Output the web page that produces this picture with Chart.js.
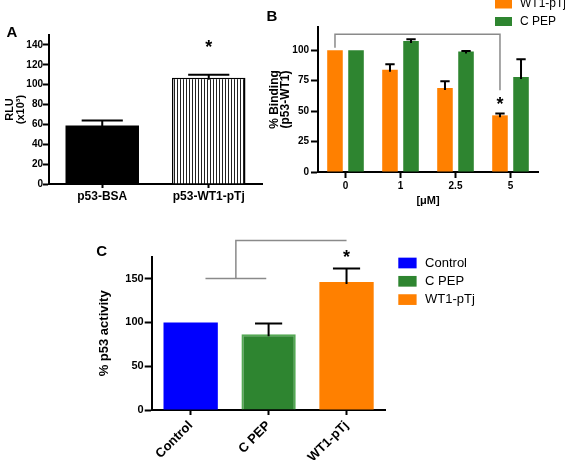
<!DOCTYPE html>
<html>
<head>
<meta charset="utf-8">
<script src="https://cdn.jsdelivr.net/npm/chart.js@4.4.0/dist/chart.umd.min.js"></script>
<style>
  html, body { margin: 0; padding: 0; background: #fff; }
  body { width: 565px; height: 460px; position: relative; overflow: hidden; }
  canvas { position: absolute; }
  #chartA { left: 0; top: 0; }
  #chartB { left: 264px; top: 0; }
  #chartC { left: 60px; top: 225px; }
</style>
</head>
<body>
<canvas id="chartA" width="268" height="215"></canvas>
<canvas id="chartB" width="301" height="215"></canvas>
<canvas id="chartC" width="505" height="235"></canvas>
<script>
// Panel A - RLU
const labelsA = ['p53-BSA', 'p53-WT1-pTj'];
const rluA = [59, 107];
const semA = [5, 3];
const ticksA = [0, 20, 40, 60, 80, 100, 120, 140];
const sigA = [false, true];

// Panel B - % binding vs dose
const doseB = ['0', '1', '2.5', '5'];
const wt1B = [100, 84, 69, 46.5];
const wt1SemB = [0, 4.5, 5.5, 1.5];
const cpepB = [100, 107.5, 98.8, 78];
const cpepSemB = [0, 1.5, 0.5, 14.5];
const ticksB = [0, 25, 50, 75, 100];
const sigB = [false, false, false, true];

// Panel C - % p53 activity
const groupsC = ['Control', 'C PEP', 'WT1-pTj'];
const activityC = [100, 86.5, 146];
const semC = [0, 12.2, 15.4];
const ticksC = [0, 50, 100, 150];
const sigC = [false, false, true];

// annotation levels (axis units)
const bracketB = { top: 113, left: 102, right: 67 };
const bracketC = { low: 150, high: 193.5 };

const ORANGE = '#ff8000';
const GREEN = '#2e8530';
const BLUE = '#0000ff';

Chart.defaults.font.family = "'Liberation Sans', Arial, sans-serif";
Chart.defaults.color = '#000';

function stripes() {
  const c = document.createElement('canvas');
  c.width = 3; c.height = 8;
  const g = c.getContext('2d');
  g.fillStyle = '#fff'; g.fillRect(0, 0, 3, 8);
  g.fillStyle = '#222'; g.fillRect(0, 0, 1, 8);
  return g.createPattern(c, 'repeat');
}

function yScale(tickList, max, width, fontSize, tickLen, pad, title) {
  return {
    min: 0, max: max,
    afterBuildTicks: s => { s.ticks = tickList.map(v => ({ value: v })); },
    afterFit: s => { s.width = width; },
    border: { color: '#000', width: 2 },
    grid: { drawOnChartArea: false, tickLength: tickLen, tickWidth: 2, tickColor: '#000' },
    ticks: { font: { size: fontSize, weight: 'bold' }, padding: pad, color: '#000' },
    title: title
  };
}

function xScale(height, fontSize, tickLen, pad, extraTicks, title) {
  return {
    afterFit: s => { s.height = height; },
    border: { color: '#000', width: 2 },
    grid: { offset: false, drawOnChartArea: false, tickLength: tickLen, tickWidth: 2, tickColor: '#000' },
    ticks: Object.assign({ font: { size: fontSize, weight: 'bold' }, padding: pad, color: '#000', autoSkip: false, maxRotation: 0 }, extraTicks || {}),
    title: title || { display: false }
  };
}

function drawStar(ctx, x, y) {
  ctx.font = "bold 18px 'Liberation Sans', Arial, sans-serif";
  ctx.fillStyle = '#000';
  ctx.textAlign = 'center';
  ctx.textBaseline = 'alphabetic';
  const m = ctx.measureText('*');
  ctx.fillText('*', x, y + (m.actualBoundingBoxAscent - m.actualBoundingBoxDescent) / 2);
}

// error bars, stars, panel letter, legend, bracket
const extras = {
  id: 'extras',
  afterDatasetsDraw(chart, args, opts) {
    const ctx = chart.ctx;
    const y = chart.scales.y;
    ctx.save();
    chart.data.datasets.forEach((ds, i) => {
      if (!ds.sem) return;
      chart.getDatasetMeta(i).data.forEach((bar, j) => {
        const s = ds.sem[j];
        if (!s) return;
        const top = y.getPixelForValue(ds.data[j] + s);
        const half = bar.width * opts.cap;
        ctx.strokeStyle = '#000';
        ctx.lineWidth = 2;
        ctx.beginPath();
        ctx.moveTo(bar.x, bar.y + 2); ctx.lineTo(bar.x, top);
        ctx.moveTo(bar.x - half, top); ctx.lineTo(bar.x + half, top);
        ctx.stroke();
      });
    });
    if (opts.stars) {
      const bars = chart.getDatasetMeta(opts.stars.dataset).data;
      opts.stars.sig.forEach((on, j) => {
        if (on) drawStar(ctx, bars[j].x, y.getPixelForValue(opts.stars.value));
      });
    }
    if (opts.bracket) opts.bracket(chart, ctx);
    if (opts.letter) {
      ctx.font = "bold 15px 'Liberation Sans', Arial, sans-serif";
      ctx.fillStyle = '#000';
      ctx.textAlign = 'center';
      ctx.textBaseline = 'middle';
      ctx.fillText(opts.letter.text, opts.letter.x, opts.letter.y);
    }
    if (opts.legend) {
      const L = opts.legend;
      ctx.font = L.size + "px 'Liberation Sans', Arial, sans-serif";
      ctx.textAlign = 'left';
      ctx.textBaseline = 'middle';
      L.items.forEach((it, k) => {
        const cy = L.y + k * L.step;
        ctx.fillStyle = it.color;
        ctx.fillRect(L.x, cy - L.h / 2, L.w, L.h);
        ctx.fillStyle = '#000';
        ctx.fillText(it.label, L.x + L.w + L.gap, cy);
      });
    }
    ctx.restore();
  }
};

// ---------- Panel A ----------
new Chart(document.getElementById('chartA'), {
  type: 'bar',
  data: {
    labels: labelsA,
    datasets: [{
      data: rluA,
      sem: semA,
      backgroundColor: ['#000', stripes()],
      borderColor: '#000',
      borderWidth: [0, 1.5],
      barPercentage: 0.69,
      categoryPercentage: 1
    }]
  },
  options: {
    responsive: false,
    animation: false,
    layout: { padding: { left: 0, right: 6, top: 35, bottom: 0 } },
    plugins: {
      legend: { display: false },
      tooltip: { enabled: false },
      extras: {
        cap: 0.28,
        stars: { dataset: 0, sig: sigA, value: 141 },
        letter: { text: 'A', x: 12, y: 33 }
      }
    },
    scales: {
      x: xScale(31, 12, 4, 1),
      y: yScale(ticksA, 150, 49, 10, 6, 0, {
        display: true, text: ['RLU', '(x10³)'],
        font: { size: 11, weight: 'bold', lineHeight: 0.95 },
        padding: { top: 5, bottom: 0 }
      })
    }
  },
  plugins: [extras]
});

// ---------- Panel B ----------
new Chart(document.getElementById('chartB'), {
  type: 'bar',
  data: {
    labels: doseB,
    datasets: [
      { label: 'WT1-pTj', data: wt1B, sem: wt1SemB, backgroundColor: ORANGE, barPercentage: 0.74, categoryPercentage: 0.765 },
      { label: 'C PEP', data: cpepB, sem: cpepSemB, backgroundColor: GREEN, barPercentage: 0.74, categoryPercentage: 0.765 }
    ]
  },
  options: {
    responsive: false,
    animation: false,
    layout: { padding: { left: 0, right: 27, top: 27, bottom: 0 } },
    plugins: {
      legend: { display: false },
      tooltip: { enabled: false },
      extras: {
        cap: 0.3,
        stars: { dataset: 0, sig: sigB, value: 59 },
        letter: { text: 'B', x: 8, y: 17 },
        legend: {
          x: 231, y: 4, step: 17.5, w: 17, h: 9, gap: 8, size: 12,
          items: [{ label: 'WT1-pTj', color: ORANGE }, { label: 'C PEP', color: GREEN }]
        },
        bracket(chart, ctx) {
          const y = chart.scales.y;
          const bars = chart.getDatasetMeta(0).data;
          const x0 = bars[0].x, x1 = bars[3].x;
          const yt = y.getPixelForValue(bracketB.top);
          ctx.strokeStyle = '#8a8a8a';
          ctx.lineWidth = 1.5;
          ctx.beginPath();
          ctx.moveTo(x0, y.getPixelForValue(bracketB.left));
          ctx.lineTo(x0, yt);
          ctx.lineTo(x1, yt);
          ctx.lineTo(x1, y.getPixelForValue(bracketB.right));
          ctx.stroke();
        }
      }
    },
    scales: {
      x: xScale(43, 10, 6, 2, null, {
        display: true, text: '[\u03bcM]',
        font: { size: 11, weight: 'bold' },
        padding: { top: 0, bottom: 7 }
      }),
      y: yScale(ticksB, 119, 54, 10, 7, 2, {
        display: true, text: ['% Binding', '(p53-WT1)'],
        font: { size: 12, weight: 'bold', lineHeight: 0.85 },
        padding: { top: 6, bottom: 0 }
      })
    }
  },
  plugins: [extras]
});

// ---------- Panel C ----------
new Chart(document.getElementById('chartC'), {
  type: 'bar',
  data: {
    labels: groupsC,
    datasets: [{
      data: activityC,
      sem: semC,
      backgroundColor: [BLUE, GREEN, ORANGE],
      borderColor: ['#0000ff', '#55a955', '#ff8000'],
      borderWidth: [0, 2, 0],
      barPercentage: 0.697,
      categoryPercentage: 1
    }]
  },
  options: {
    responsive: false,
    animation: false,
    layout: { padding: { left: 0, right: 179.5, top: 31.7, bottom: 0 } },
    plugins: {
      legend: { display: false },
      tooltip: { enabled: false },
      extras: {
        cap: 0.25,
        stars: { dataset: 0, sig: sigC, value: 178.5 },
        letter: { text: 'C', x: 41.7, y: 26.7 },
        legend: {
          x: 338.3, y: 38, step: 18.3, w: 18.3, h: 10.7, gap: 8.5, size: 13,
          items: groupsC.map((g, k) => ({ label: g, color: [BLUE, GREEN, ORANGE][k] }))
        },
        bracket(chart, ctx) {
          const x = chart.scales.x, y = chart.scales.y;
          const c0 = x.getPixelForValue(0), c1 = x.getPixelForValue(1), c2 = x.getPixelForValue(2);
          const cw = c1 - c0;
          const l = c0 + 0.19 * cw, r = c1 - 0.03 * cw, m = (l + r) / 2;
          const yl = y.getPixelForValue(bracketC.low), yh = y.getPixelForValue(bracketC.high);
          ctx.strokeStyle = '#8a8a8a';
          ctx.lineWidth = 1.5;
          ctx.beginPath();
          ctx.moveTo(l, yl); ctx.lineTo(r, yl);
          ctx.moveTo(m, yl); ctx.lineTo(m, yh); ctx.lineTo(c2, yh);
          ctx.stroke();
        }
      }
    },
    scales: {
      x: xScale(50, 13, 5, 3, { minRotation: 45, maxRotation: 45 }),
      y: yScale(ticksC, 175, 91.7, 11, 7, 1, {
        display: true, text: '% p53 activity',
        font: { size: 13, weight: 'bold' },
        padding: { top: 37, bottom: 0 }
      })
    }
  },
  plugins: [extras]
});
</script>
</body>
</html>
